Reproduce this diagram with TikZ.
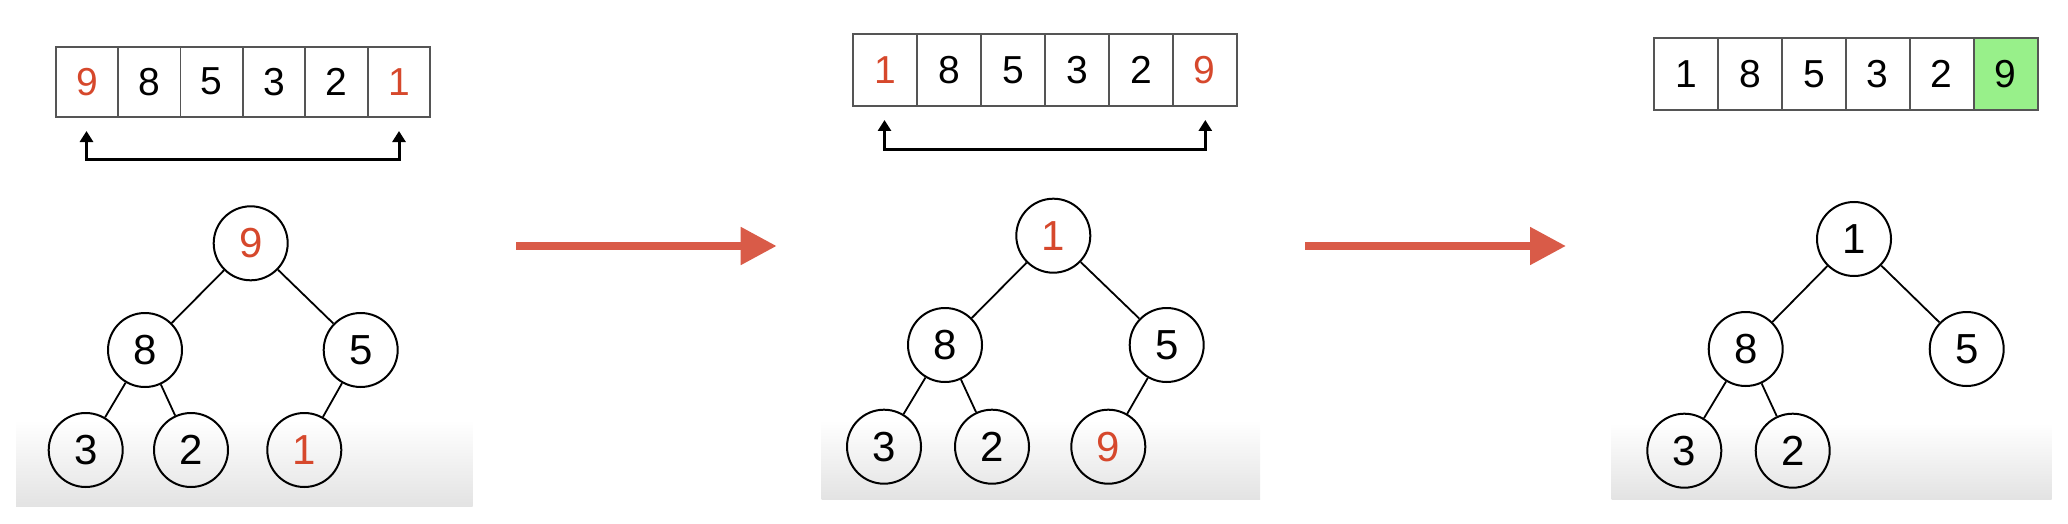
\documentclass[tikz,border=0pt]{standalone}
\usepackage{fontspec}
\setmainfont{Liberation Sans}
\usetikzlibrary{arrows.meta}
\definecolor{hred}{RGB}{214,72,44}
\definecolor{barrow}{RGB}{217,91,72}
\definecolor{cellgreen}{RGB}{152,240,138}
\definecolor{cellline}{RGB}{85,85,85}
\begin{document}
\begin{tikzpicture}[x=1pt,y=-1pt,
  cellA/.style={draw=cellline,line width=1.8pt,minimum width=62.4pt,minimum height=70pt,inner sep=0pt,font=\fontsize{39}{39}\selectfont},
  cellB/.style={draw=cellline,line width=1.8pt,minimum width=63.9pt,minimum height=72.3pt,inner sep=0pt,font=\fontsize{39}{39}\selectfont},
  tnode/.style={draw=black,circle,line width=2pt,minimum size=74pt,inner sep=0pt,font=\fontsize{42}{42}\selectfont},
  tedge/.style={line width=1.8pt,black},
  swap/.style={line width=3pt,black,{Triangle[length=11pt,width=13pt]}-{Triangle[length=11pt,width=13pt]}},
  bigarrow/.style={line width=8pt,barrow,-{Triangle[length=36pt,width=36pt]}},
  shade/.style={top color=white,bottom color=black!11}]
\useasboundingbox (0,0) rectangle (2068,524);
% background shading bands
\shade[shade] (16,420) rectangle (472.7,506.7);
\shade[shade] (821.7,420) rectangle (1260,499);
\shade[shade] (1611.7,423) rectangle (2051.7,499);

% ---------- Panel 1 ----------
\node[cellA,text=hred] (p1a1) at (86.9,81.7) {9};
\node[cellA] (p1a2) at (149.3,81.7) {8};
\node[cellA] (p1a3) at (211.7,81.7) {5};
\node[cellA] (p1a4) at (274.1,81.7) {3};
\node[cellA] (p1a5) at (336.5,81.7) {2};
\node[cellA,text=hred] (p1a6) at (398.9,81.7) {1};
\coordinate (p1s1) at (86.5,131);
\coordinate (p1s2) at (86.5,159.3);
\coordinate (p1s3) at (399,159.3);
\coordinate (p1s4) at (399,131);
\draw[swap] (p1s1) -- (p1s2) -- (p1s3) -- (p1s4);
\node[tnode,text=hred] (p1r) at (250.7,243.3) {9};
\node[tnode] (p1l) at (145,350) {8};
\node[tnode] (p1m) at (360.7,350) {5};
\node[tnode] (p1ll) at (85.7,450) {3};
\node[tnode] (p1lr) at (191,450) {2};
\node[tnode,text=hred] (p1ml) at (304.3,450) {1};
\draw[tedge] (p1r) -- (p1l);
\draw[tedge] (p1r) -- (p1m);
\draw[tedge] (p1l) -- (p1ll);
\draw[tedge] (p1l) -- (p1lr);
\draw[tedge] (p1m) -- (p1ml);

% ---------- big arrow 1 ----------
\coordinate (g1a) at (516,246);
\coordinate (g1b) at (776.7,246);
\draw[bigarrow] (g1a) -- (g1b);

% ---------- Panel 2 ----------
\node[cellB,text=hred] (p2a1) at (885.25,69.85) {1};
\node[cellB] (p2a2) at (949.15,69.85) {8};
\node[cellB] (p2a3) at (1013.05,69.85) {5};
\node[cellB] (p2a4) at (1076.95,69.85) {3};
\node[cellB] (p2a5) at (1140.85,69.85) {2};
\node[cellB,text=hred] (p2a6) at (1204.75,69.85) {9};
\coordinate (p2s1) at (884.5,120);
\coordinate (p2s2) at (884.5,149.3);
\coordinate (p2s3) at (1205.3,149.3);
\coordinate (p2s4) at (1205.3,120);
\draw[swap] (p2s1) -- (p2s2) -- (p2s3) -- (p2s4);
\node[tnode,text=hred] (p2r) at (1053.3,235.7) {1};
\node[tnode] (p2l) at (945,345) {8};
\node[tnode] (p2m) at (1166.7,345) {5};
\node[tnode] (p2ll) at (884,446.7) {3};
\node[tnode] (p2lr) at (992,446.7) {2};
\node[tnode,text=hred] (p2ml) at (1108.3,446.7) {9};
\draw[tedge] (p2r) -- (p2l);
\draw[tedge] (p2r) -- (p2m);
\draw[tedge] (p2l) -- (p2ll);
\draw[tedge] (p2l) -- (p2lr);
\draw[tedge] (p2m) -- (p2ml);

% ---------- big arrow 2 ----------
\coordinate (g2a) at (1305,246);
\coordinate (g2b) at (1566,246);
\draw[bigarrow] (g2a) -- (g2b);

% ---------- Panel 3 ----------
\node[cellB] (p3a1) at (1686,74) {1};
\node[cellB] (p3a2) at (1749.9,74) {8};
\node[cellB] (p3a3) at (1813.9,74) {5};
\node[cellB] (p3a4) at (1877.8,74) {3};
\node[cellB] (p3a5) at (1941.8,74) {2};
\node[cellB,fill=cellgreen] (p3a6) at (2005.7,74) {9};
\node[tnode] (p3r) at (1854,239) {1};
\node[tnode] (p3l) at (1745.7,349) {8};
\node[tnode] (p3m) at (1966.7,349) {5};
\node[tnode] (p3ll) at (1684.3,450.7) {3};
\node[tnode] (p3lr) at (1792.7,450.7) {2};
\draw[tedge] (p3r) -- (p3l);
\draw[tedge] (p3r) -- (p3m);
\draw[tedge] (p3l) -- (p3ll);
\draw[tedge] (p3l) -- (p3lr);
\end{tikzpicture}
\end{document}
